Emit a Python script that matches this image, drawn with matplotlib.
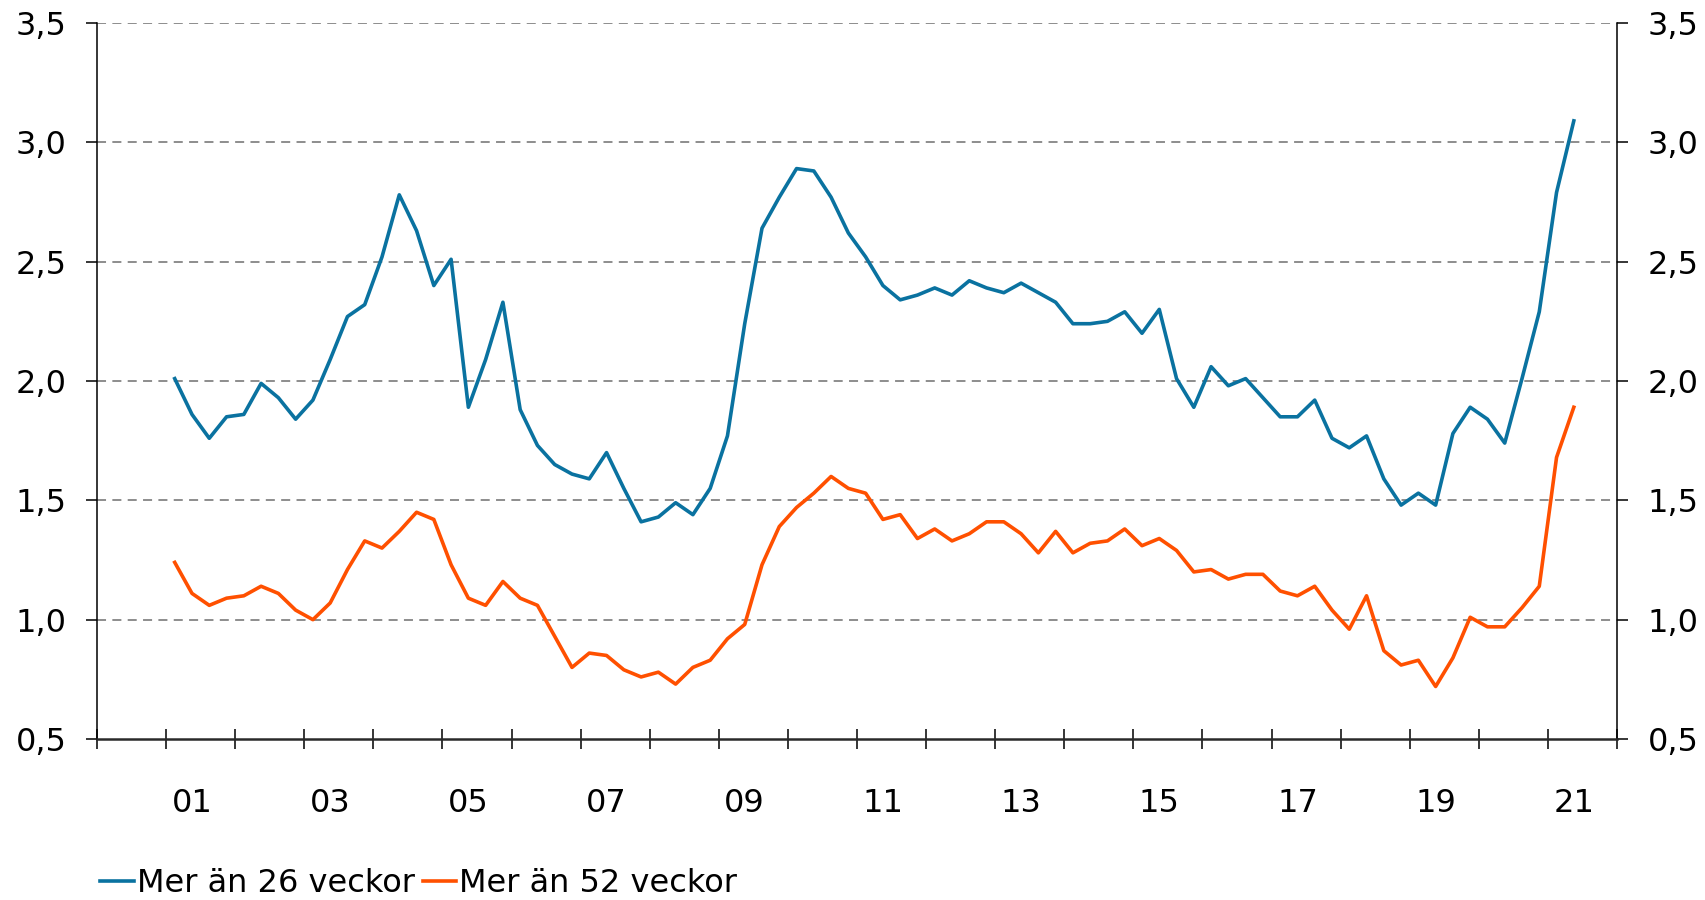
#%% imports
import numpy as np
import matplotlib
matplotlib.use("Agg")
import matplotlib.pyplot as plt

#%% data: quarterly, first point 2001 Q1
start_year = 2001

mer_an_26 = [2.01, 1.86, 1.76, 1.85, 1.86, 1.99, 1.93, 1.84, 1.92, 2.09,
             2.27, 2.32, 2.52, 2.78, 2.63, 2.40, 2.51, 1.89, 2.09, 2.33,
             1.88, 1.73, 1.65, 1.61, 1.59, 1.70, 1.55, 1.41, 1.43, 1.49,
             1.44, 1.55, 1.77, 2.24, 2.64, 2.77, 2.89, 2.88, 2.77, 2.62,
             2.52, 2.40, 2.34, 2.36, 2.39, 2.36, 2.42, 2.39, 2.37, 2.41,
             2.37, 2.33, 2.24, 2.24, 2.25, 2.29, 2.20, 2.30, 2.01, 1.89,
             2.06, 1.98, 2.01, 1.93, 1.85, 1.85, 1.92, 1.76, 1.72, 1.77,
             1.59, 1.48, 1.53, 1.48, 1.78, 1.89, 1.84, 1.74, 2.01, 2.29,
             2.79, 3.09]

mer_an_52 = [1.24, 1.11, 1.06, 1.09, 1.10, 1.14, 1.11, 1.04, 1.00, 1.07,
             1.21, 1.33, 1.30, 1.37, 1.45, 1.42, 1.23, 1.09, 1.06, 1.16,
             1.09, 1.06, 0.93, 0.80, 0.86, 0.85, 0.79, 0.76, 0.78, 0.73,
             0.80, 0.83, 0.92, 0.98, 1.23, 1.39, 1.47, 1.53, 1.60, 1.55,
             1.53, 1.42, 1.44, 1.34, 1.38, 1.33, 1.36, 1.41, 1.41, 1.36,
             1.28, 1.37, 1.28, 1.32, 1.33, 1.38, 1.31, 1.34, 1.29, 1.20,
             1.21, 1.17, 1.19, 1.19, 1.12, 1.10, 1.14, 1.04, 0.96, 1.10,
             0.87, 0.81, 0.83, 0.72, 0.84, 1.01, 0.97, 0.97, 1.05, 1.14,
             1.68, 1.89]

label_years = [2001, 2003, 2005, 2007, 2009, 2011, 2013, 2015, 2017, 2019, 2021]
year_labels = ['01', '03', '05', '07', '09', '11', '13', '15', '17', '19', '21']
y_ticks = [0.5, 1.0, 1.5, 2.0, 2.5, 3.0, 3.5]

quarters = np.arange(len(mer_an_26))
x = start_year + (quarters + 0.5) / 4

#%% plot
fig = plt.figure(figsize=(17.06, 9.0), dpi=100)
ax = fig.add_axes([97/1706, 1 - 739/900, (1617 - 97)/1706, (739 - 23)/900])

for v in y_ticks[1:]:
    ax.axhline(v, color='#858585', lw=1.3, ls=(0, (5, 3.5)), zorder=0)

ax.plot(x, mer_an_26, color='#0a72a0', lw=2.6, label='Mer än 26 veckor')
ax.plot(x, mer_an_52, color='#ff5000', lw=2.6, label='Mer än 52 veckor')

ax.set_xlim(2000, 2022)
ax.set_ylim(0.5, 3.5)

ax.set_yticks(y_ticks)
ax.set_yticklabels([f'{v:.1f}'.replace('.', ',') for v in y_ticks])
ax.tick_params(axis='y', direction='out', length=8, width=1.1, labelsize=23,
               pad=14, left=True, right=True, labelleft=True, labelright=True)

ax.set_xticks(np.arange(2000, 2023))
ax.set_xticklabels([])
ax.tick_params(axis='x', which='major', direction='inout', length=15, width=1.1)
ax.set_xticks([y + 0.375 for y in label_years], minor=True)
ax.set_xticklabels(year_labels, minor=True)
ax.tick_params(axis='x', which='minor', length=0, labelsize=23, pad=35)

ax.spines['top'].set_visible(False)
ax.spines['left'].set_linewidth(1.1)
ax.spines['right'].set_linewidth(1.1)
ax.spines['bottom'].set_linewidth(1.8)
ax.spines['bottom'].set_color('#2a2a2a')

fig.legend(loc='center left', bbox_to_anchor=(100/1706, 1 - 884/900), ncol=2,
           frameon=False, fontsize=23, handlelength=1.05, handletextpad=0.1,
           columnspacing=0.25, borderaxespad=0, borderpad=0)

plt.savefig('out.png', dpi=100)
plt.close()
